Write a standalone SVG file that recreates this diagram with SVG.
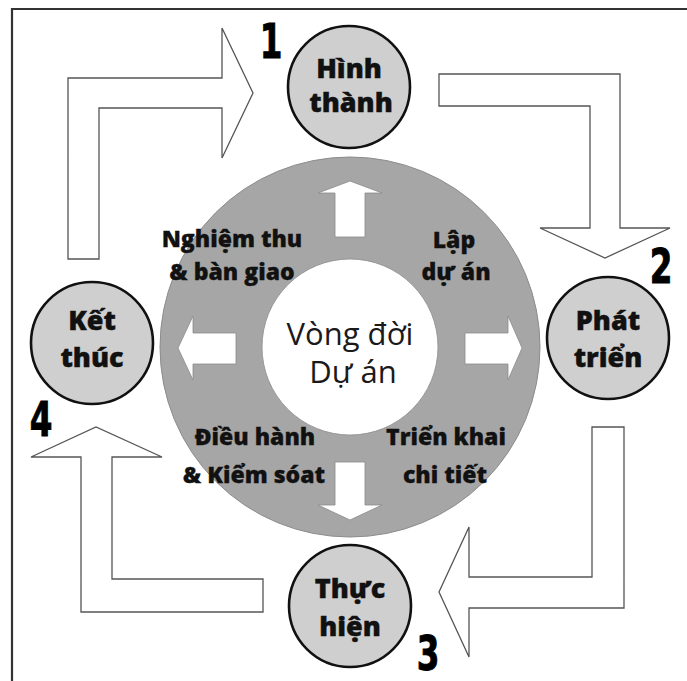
<svg xmlns="http://www.w3.org/2000/svg" width="687" height="681" viewBox="0 0 687 681">
<style>
.frame{fill:none;stroke:#333;stroke-width:2.2}
.block{fill:#fff;stroke:#555;stroke-width:1.3;stroke-linejoin:miter}
.inner{fill:#fff;stroke:#8a8a8a;stroke-width:0.8}
.node{fill:#cfcfcf;stroke:#111;stroke-width:2.6}
.nt{font-family:"Open Sans",Lato,sans-serif;font-weight:800;font-size:27px;fill:#111;text-anchor:middle;stroke:#111;stroke-width:0.4}
.rt{font-family:"Open Sans",Lato,sans-serif;font-weight:800;font-size:23px;fill:#111;text-anchor:middle;stroke:#111;stroke-width:0.3}
.ct{font-family:"Open Sans",Lato,sans-serif;font-size:31px;fill:#1a1a1a;text-anchor:middle}
.num{font-family:"DejaVu Sans",sans-serif;font-weight:bold;font-size:48px;fill:#000;text-anchor:middle;stroke:#000;stroke-width:1}
</style>
<rect width="687" height="681" fill="#fff"/>
<path class="frame" d="M12,681 V9 H687"/>

<g id="connectors">
<polygon class="block" points="68,259 68,78 222,78 222,28 253,93 222,158 222,108 99,108 99,259"/>
<polygon class="block" points="439,74 620,74 620,228 670,228 605,258 540,228 590,228 590,106 439,106"/>
<polygon class="block" points="592,427 624,427 624,608 469,608 469,657 439,592 469,527 469,577 592,577"/>
<polygon class="block" points="263,579 263,612 81,612 81,457 31,457 96,427 162,457 112,457 112,579"/>
</g>

<g id="lifecycle">
<circle cx="350" cy="347" r="190" fill="#a6a6a6" stroke="#8c8c8c" stroke-width="1"/>
<circle cx="350" cy="347" r="88" fill="#fff" stroke="#8c8c8c" stroke-width="0.8"/>
<polygon class="inner" points="335,237 335,193 318,193 350,181 382,193 365,193 365,237"/>
<polygon class="inner" points="465,333 508,333 508,316 522,348 508,380 508,364 465,364"/>
<polygon class="inner" points="236,333 193,333 193,316 178,348 193,380 193,364 236,364"/>
<polygon class="inner" points="335,462 335,505 318,505 350,520 382,505 365,505 365,462"/>
<text class="ct" x="350" y="345">Vòng đời</text>
<text class="ct" x="353" y="383">Dự án</text>
<text class="rt" x="232" y="247">Nghiệm thu</text>
<text class="rt" x="232" y="280">&amp; bàn giao</text>
<text class="rt" x="454" y="248">Lập</text>
<text class="rt" x="456" y="280">dự án</text>
<text class="rt" x="255" y="445">Điều hành</text>
<text class="rt" x="254" y="483">&amp; Kiểm sóat</text>
<text class="rt" x="446" y="445">Triển khai</text>
<text class="rt" x="445" y="483">chi tiết</text>
</g>

<g id="node-hinh-thanh">
<circle class="node" cx="349" cy="87" r="61"/>
<text class="nt" x="349" y="78">Hình</text>
<text class="nt" x="351" y="112">thành</text>
<text class="num" transform="translate(271,58) scale(0.68,1)">1</text>
</g>

<g id="node-phat-trien">
<circle class="node" cx="608" cy="338" r="61"/>
<text class="nt" x="608" y="330">Phát</text>
<text class="nt" x="608" y="367">triển</text>
<text class="num" transform="translate(661,283) scale(0.68,1)">2</text>
</g>

<g id="node-thuc-hien">
<circle class="node" cx="350" cy="606" r="61"/>
<text class="nt" x="350" y="598">Thực</text>
<text class="nt" x="350" y="636">hiện</text>
<text class="num" transform="translate(428,670) scale(0.68,1)">3</text>
</g>

<g id="node-ket-thuc">
<circle class="node" cx="92" cy="343" r="61"/>
<text class="nt" x="92" y="330">Kết</text>
<text class="nt" x="92" y="367">thúc</text>
<text class="num" transform="translate(41,436) scale(0.68,1)">4</text>
</g>
</svg>
